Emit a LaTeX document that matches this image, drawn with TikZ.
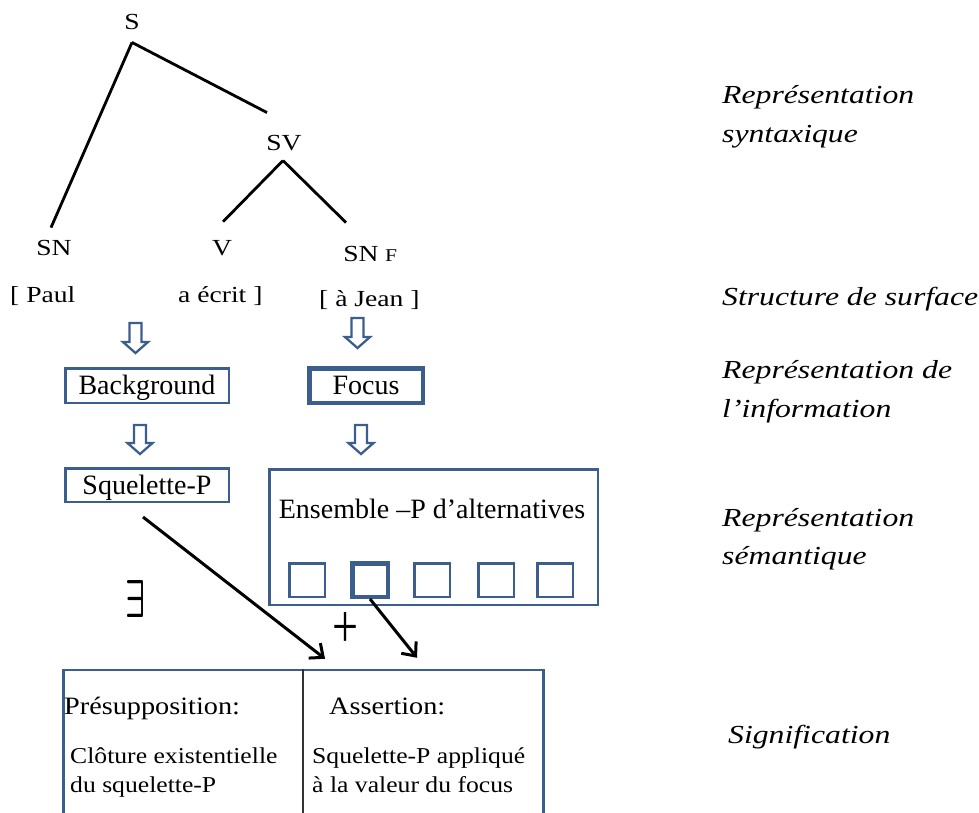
\documentclass[tikz,border=0pt]{standalone}
\usepackage{fontspec}
\setmainfont{Liberation Serif}
\usepackage{graphicx}
\usetikzlibrary{arrows.meta}
\definecolor{bblue}{RGB}{59,94,140}
\newcommand\tw[1]{\scalebox{1.2}[1]{#1}}
\newcommand\lw[1]{\scalebox{1.22}[1]{#1}}
\newcommand\bw[1]{\scalebox{1.13}[1]{#1}}
\begin{document}
\begin{tikzpicture}[x=1pt,y=-1pt,
  tree/.style={inner sep=0pt, anchor=base, font=\fontsize{23}{27}\selectfont},
  treeline/.style={line width=2.8pt, black},
  lab/.style={inner sep=0pt, anchor=base west, font=\fontsize{26}{39}\selectfont\itshape},
  bbox/.style={draw=bblue, line width=2.5pt, inner sep=0pt, text height=18.5pt, text depth=0pt, font=\fontsize{28}{33}\selectfont},
  thickbox/.style={bbox, line width=4.5pt},
  sqbox/.style={draw=bblue, line width=2.5pt, inner sep=0pt, minimum width=35.5pt, minimum height=33.5pt},
  hollow/.style={draw=bblue, line width=2.3pt, fill=white, line join=miter},
  arr/.style={line width=3pt, -{Straight Barb[length=11pt, width=19pt]}},
  btxt/.style={inner sep=0pt, anchor=base west, font=\fontsize{25}{30}\selectfont},
  ctxt/.style={inner sep=0pt, anchor=base west, font=\fontsize{22.7}{29}\selectfont}
]
\useasboundingbox (0,0) rectangle (979,812);
\clip (0,0) rectangle (979,812);

% ---- syntactic tree ----
\node[tree] (S) at (132,29) {\tw{S}};
\node[tree] (SV) at (284,150) {\tw{SV}};
\node[tree] (SN) at (54,255) {\tw{SN}};
\node[tree] (V) at (222,255) {\tw{V}};
\node[tree] (SNF) at (361,261) {\tw{SN}};
\node[tree, anchor=base west, font=\fontsize{18}{20}\selectfont] (F) at (385,261) {\tw{F}};
\node[tree, anchor=base west] (paul) at (10,302) {\tw{[ Paul}};
\node[tree, anchor=base west] (ecrit) at (178,302) {\tw{a écrit ]}};
\node[tree, anchor=base west] (jean) at (319,306) {\tw{[ à Jean ]}};

\draw[treeline] ([shift={(0,13)}]S.south) -- ([shift={(-3,-12)}]SN.north);
\draw[treeline] ([shift={(0,13)}]S.south) -- ([shift={(-17,-22)}]SV.north);
\draw[treeline] ([shift={(-1,10)}]SV.south) -- ([shift={(1,-18)}]V.north);
\draw[treeline] ([shift={(-1,10)}]SV.south) -- ([shift={(-15,-23)}]SNF.north);

% ---- hollow arrows ----
\draw[hollow, shift={(135.5,323)}] (-6,0) -- (6,0) -- (6,19) -- (12.5,19) -- (0,30) -- (-12.5,19) -- (-6,19) -- cycle;
\draw[hollow, shift={(357.5,318)}] (-6,0) -- (6,0) -- (6,19) -- (12.5,19) -- (0,30) -- (-12.5,19) -- (-6,19) -- cycle;
\draw[hollow, shift={(140,425)}] (-6,0) -- (6,0) -- (6,18) -- (12.5,18) -- (0,29) -- (-12.5,18) -- (-6,18) -- cycle;
\draw[hollow, shift={(361,425)}] (-6,0) -- (6,0) -- (6,18) -- (12.5,18) -- (0,29) -- (-12.5,18) -- (-6,18) -- cycle;

% ---- information / semantic boxes ----
\node[bbox, minimum width=163.5pt, minimum height=34.5pt] (bg) at (147,385.5) {Background};
\node[thickbox, minimum width=113.5pt, minimum height=34.5pt] (focus) at (366,385.5) {Focus};
\node[bbox, minimum width=163.5pt, minimum height=33.5pt] (sqP) at (147,485) {Squelette-P};
\node[draw=bblue, line width=2.5pt, minimum width=328.5pt, minimum height=135.5pt, inner sep=0pt] (ens) at (433.5,537) {};
\node[inner sep=0pt, anchor=base, font=\fontsize{28}{33}\selectfont] (enstxt) at (432,518) {Ensemble –P d’alternatives};

\node[sqbox] (sq1) at (307,580) {};
\node[sqbox, line width=4.5pt] (sq2) at (370,580) {};
\node[sqbox] (sq3) at (432,580) {};
\node[sqbox] (sq4) at (496,580) {};
\node[sqbox] (sq5) at (555,580) {};

% ---- symbols ----
\node[inner sep=0pt] (exists) at (135,598.5) {\resizebox{20pt}{37pt}{\boldmath$\exists$}};
\node[inner sep=0pt] (plus) at (345,629.5) {\resizebox{26pt}{35pt}{+}};

% ---- signification box ----
\node[draw=bblue, line width=2.5pt, minimum width=480pt, minimum height=160pt, inner sep=0pt] (sig) at (303.5,750) {};
\coordinate (divx) at (303,0);
\draw[line width=1.4pt, black!80] (sig.north -| divx) -- (sig.south -| divx);

\node[btxt] (pres) at (64,714) {\bw{Présupposition:}};
\node[btxt] (ass) at (329,714) {\bw{Assertion:}};
\node[ctxt] (c1) at (70,763) {\bw{Clôture existentielle}};
\node[ctxt] (c2) at (70,792) {\bw{du squelette-P}};
\node[ctxt] (c3) at (312,763) {\bw{Squelette-P appliqué}};
\node[ctxt] (c4) at (312,792) {\bw{à la valeur du focus}};

\draw[arr] ([shift={(-4,14)}]sqP.south) -- ([shift={(21.5,-10)}]sig.north);
\draw[arr] (sq2.south) -- ([shift={(113.5,-11)}]sig.north);

% ---- level labels ----
\node[lab] (r1a) at (722,103) {\lw{Représentation}};
\node[lab] (r1b) at (722,142) {\lw{syntaxique}};
\node[lab] (r2) at (722,305) {\lw{Structure de surface}};
\node[lab] (r3a) at (722,378) {\lw{Représentation de}};
\node[lab] (r3b) at (722,417) {\lw{l’information}};
\node[lab] (r4a) at (722,526) {\lw{Représentation}};
\node[lab] (r4b) at (722,564) {\lw{sémantique}};
\node[lab] (r5) at (728,743) {\lw{Signification}};
\end{tikzpicture}
\end{document}
